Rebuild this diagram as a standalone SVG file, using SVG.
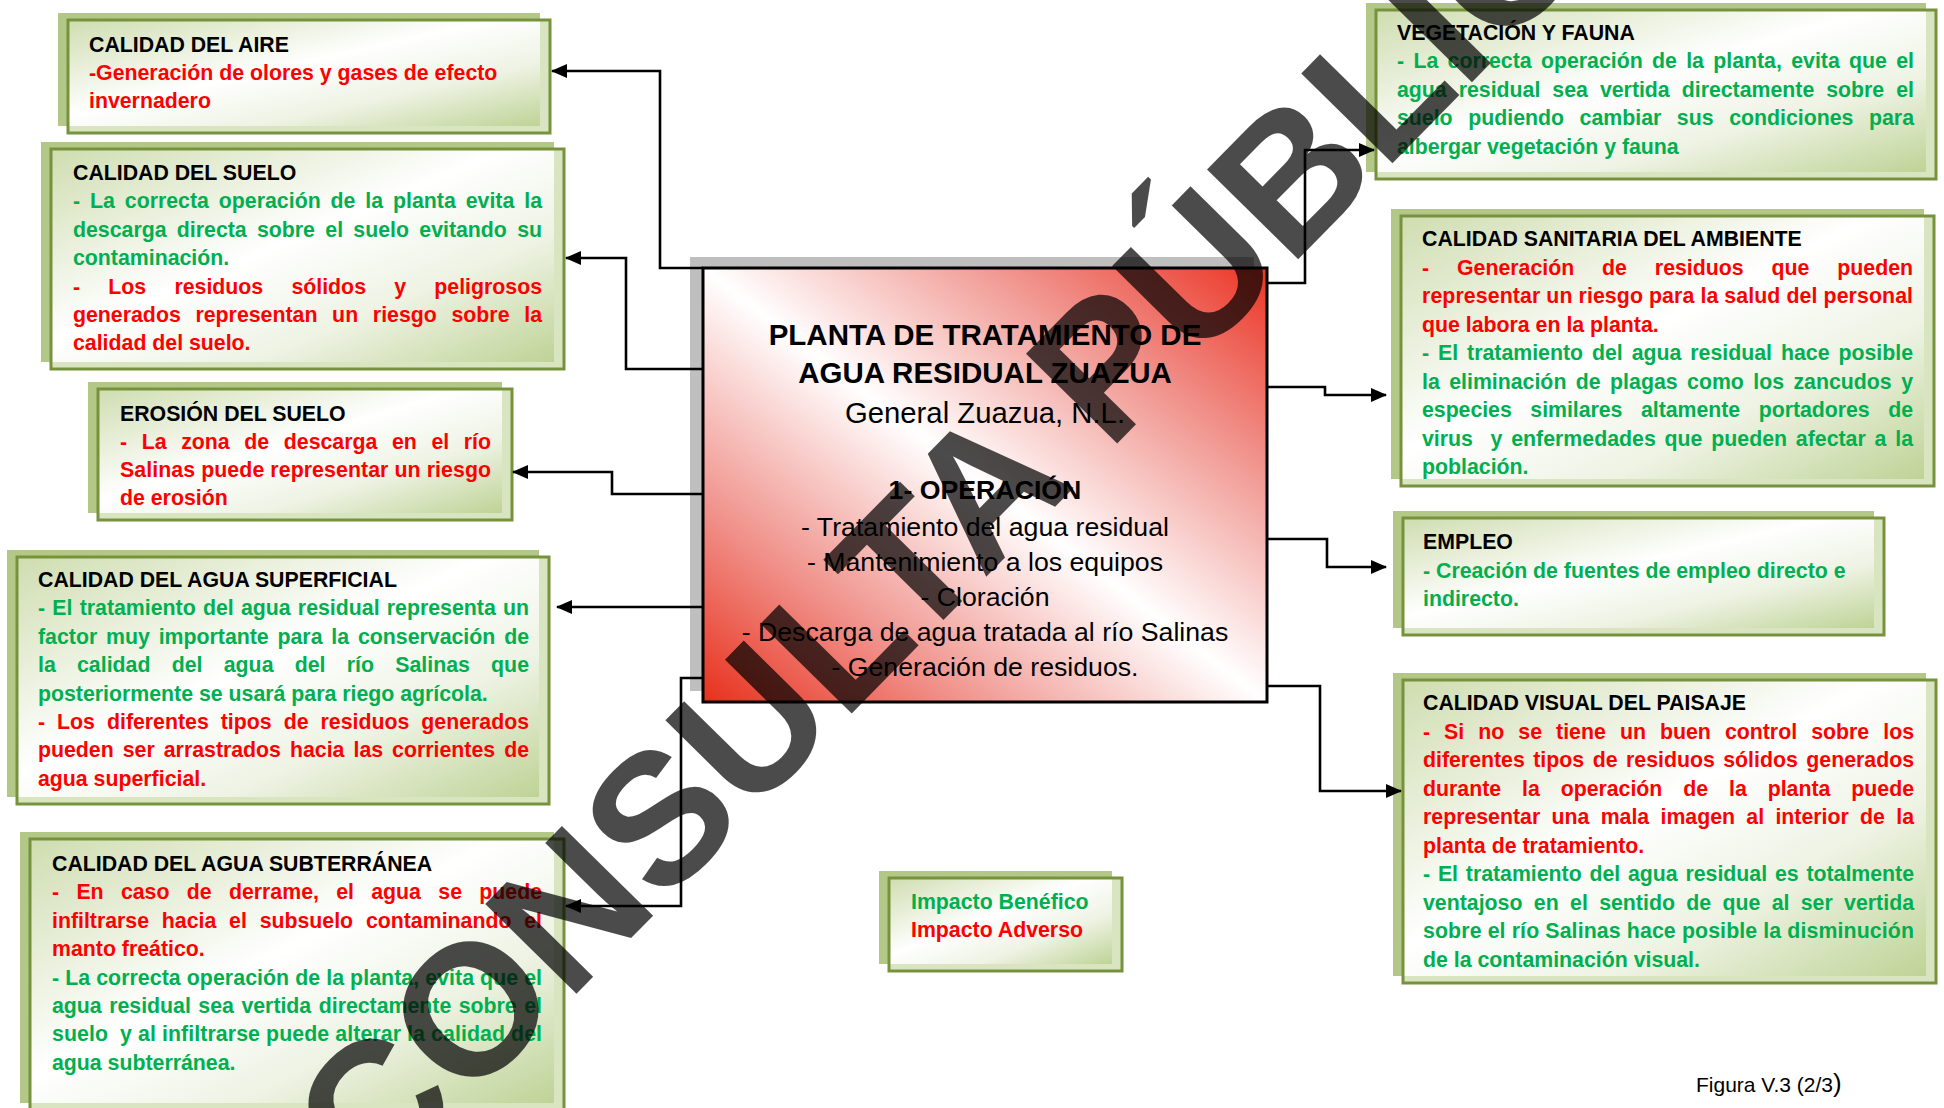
<svg xmlns="http://www.w3.org/2000/svg" width="1944" height="1108" viewBox="0 0 1944 1108">
<defs>
<linearGradient id="gg" x1="0" y1="0" x2="1" y2="1">
<stop offset="0" stop-color="#cfddb0"/>
<stop offset="0.45" stop-color="#ffffff"/>
<stop offset="0.7" stop-color="#eef3e4"/>
<stop offset="1" stop-color="#bfd396"/>
</linearGradient>
<linearGradient id="rg" x1="0" y1="1" x2="1" y2="0">
<stop offset="0" stop-color="#e8301c"/>
<stop offset="0.22" stop-color="#f08f88"/>
<stop offset="0.5" stop-color="#ffffff"/>
<stop offset="0.78" stop-color="#f08f88"/>
<stop offset="1" stop-color="#ec3424"/>
</linearGradient>
<marker id="ah" markerWidth="16" markerHeight="14" refX="15" refY="7" orient="auto" markerUnits="userSpaceOnUse">
<path d="M0,0 L16,7 L0,14 z" fill="#000"/>
</marker>
<style>
.t{font-family:"Liberation Sans",Arial,sans-serif;font-weight:bold;font-size:21.3px}
.k{fill:#000}.r{fill:#ff0000}.g{fill:#00b050}
.sh{fill:#b3c886}.st{fill:#d9e5c1}.in{fill:url(#gg)}
.fr{fill:none;stroke:#76923c;stroke-width:3}
.cn{fill:none;stroke:#000;stroke-width:2.6;marker-end:url(#ah)}
.c{font-family:"Liberation Sans",Arial,sans-serif;text-anchor:middle;fill:#000}
.wm{font-family:"Liberation Sans",Arial,sans-serif;font-weight:bold;font-size:186px;fill:#000;opacity:0.7;text-anchor:middle}
</style>
</defs>
<rect width="1944" height="1108" fill="#fff"/>

<g id="aire">
<rect class="sh" x="58" y="13" width="482" height="113"/>
<rect class="st" x="68" y="20" width="482" height="113"/>
<rect class="in" x="68" y="20" width="472" height="106"/>
<rect class="fr" x="68" y="20" width="482" height="113"/>
<text class="t k" x="89" y="52">CALIDAD DEL AIRE</text>
<text class="t r" x="89" y="80">-Generación de olores y gases de efecto</text>
<text class="t r" x="89" y="108">invernadero</text>
</g>

<g id="suelo">
<rect class="sh" x="41" y="142" width="513" height="220"/>
<rect class="st" x="51" y="149" width="513" height="220"/>
<rect class="in" x="51" y="149" width="503" height="213"/>
<rect class="fr" x="51" y="149" width="513" height="220"/>
<text class="t k" x="73" y="180">CALIDAD DEL SUELO</text>
<text class="t g" x="73" y="208.4" textLength="469" lengthAdjust="spacing" word-spacing="4">- La correcta operación de la planta evita la</text>
<text class="t g" x="73" y="236.8" textLength="469" lengthAdjust="spacing" word-spacing="4.4">descarga directa sobre el suelo evitando su</text>
<text class="t g" x="73" y="265.2">contaminación.</text>
<text class="t r" x="73" y="293.6" textLength="469" lengthAdjust="spacing" word-spacing="22.3">- Los residuos sólidos y peligrosos</text>
<text class="t r" x="73" y="322" textLength="469" lengthAdjust="spacing" word-spacing="8.8">generados representan un riesgo sobre la</text>
<text class="t r" x="73" y="350.4">calidad del suelo.</text>
</g>

<g id="erosion">
<rect class="sh" x="88" y="382" width="414" height="131"/>
<rect class="st" x="98" y="389" width="414" height="131"/>
<rect class="in" x="98" y="389" width="404" height="124"/>
<rect class="fr" x="98" y="389" width="414" height="131"/>
<text class="t k" x="120" y="421">EROSIÓN DEL SUELO</text>
<text class="t r" x="120" y="449" textLength="371" lengthAdjust="spacing" word-spacing="8.7">- La zona de descarga en el río</text>
<text class="t r" x="120" y="477" textLength="371" lengthAdjust="spacing">Salinas puede representar un riesgo</text>
<text class="t r" x="120" y="505">de erosión</text>
</g>

<g id="superficial">
<rect class="sh" x="7" y="550" width="532" height="247"/>
<rect class="st" x="17" y="557" width="532" height="247"/>
<rect class="in" x="17" y="557" width="522" height="240"/>
<rect class="fr" x="17" y="557" width="532" height="247"/>
<text class="t k" x="38" y="587">CALIDAD DEL AGUA SUPERFICIAL</text>
<text class="t g" x="38" y="615.4" textLength="491" lengthAdjust="spacing" word-spacing="1.3">- El tratamiento del agua residual representa un</text>
<text class="t g" x="38" y="643.8" textLength="491" lengthAdjust="spacing" word-spacing="2.9">factor muy importante para la conservación de</text>
<text class="t g" x="38" y="672.2" textLength="491" lengthAdjust="spacing" word-spacing="15.3">la calidad del agua del río Salinas que</text>
<text class="t g" x="38" y="700.6">posteriormente se usará para riego agrícola.</text>
<text class="t r" x="38" y="729" textLength="491" lengthAdjust="spacing" word-spacing="6.1">- Los diferentes tipos de residuos generados</text>
<text class="t r" x="38" y="757.4" textLength="491" lengthAdjust="spacing" word-spacing="3.1">pueden ser arrastrados hacia las corrientes de</text>
<text class="t r" x="38" y="785.8">agua superficial.</text>
</g>

<g id="subterranea">
<rect class="sh" x="20" y="832" width="534" height="271"/>
<rect class="st" x="30" y="839" width="534" height="290"/>
<rect class="in" x="30" y="839" width="524" height="264"/>
<rect class="fr" x="30" y="839" width="534" height="290"/>
<text class="t k" x="52" y="871">CALIDAD DEL AGUA SUBTERRÁNEA</text>
<text class="t r" x="52" y="899.4" textLength="490" lengthAdjust="spacing" word-spacing="11.4">- En caso de derrame, el agua se puede</text>
<text class="t r" x="52" y="927.8" textLength="490" lengthAdjust="spacing" word-spacing="6.9">infiltrarse hacia el subsuelo contaminando el</text>
<text class="t r" x="52" y="956.2">manto freático.</text>
<text class="t g" x="52" y="984.6" textLength="490" lengthAdjust="spacing">- La correcta operación de la planta, evita que el</text>
<text class="t g" x="52" y="1013" textLength="490" lengthAdjust="spacing" word-spacing="1.6">agua residual sea vertida directamente sobre el</text>
<text class="t g" x="52" y="1041.4" textLength="490" lengthAdjust="spacing" xml:space="preserve">suelo  y al infiltrarse puede alterar la calidad del</text>
<text class="t g" x="52" y="1069.8">agua subterránea.</text>
</g>

<g id="vegetacion">
<rect class="sh" x="1366" y="3" width="560" height="169"/>
<rect class="st" x="1376" y="10" width="560" height="169"/>
<rect class="in" x="1376" y="10" width="550" height="162"/>
<rect class="fr" x="1376" y="10" width="560" height="169"/>
<text class="t k" x="1397" y="40">VEGETACIÓN Y FAUNA</text>
<text class="t g" x="1397" y="68.4" textLength="517" lengthAdjust="spacing" word-spacing="3.4">- La correcta operación de la planta, evita que el</text>
<text class="t g" x="1397" y="96.8" textLength="517" lengthAdjust="spacing" word-spacing="6.1">agua residual sea vertida directamente sobre el</text>
<text class="t g" x="1397" y="125.2" textLength="517" lengthAdjust="spacing" word-spacing="9.7">suelo pudiendo cambiar sus condiciones para</text>
<text class="t g" x="1397" y="153.6">albergar vegetación y fauna</text>
</g>

<g id="sanitaria">
<rect class="sh" x="1391" y="209" width="533" height="270"/>
<rect class="st" x="1401" y="216" width="533" height="270"/>
<rect class="in" x="1401" y="216" width="523" height="263"/>
<rect class="fr" x="1401" y="216" width="533" height="270"/>
<text class="t k" x="1422" y="246">CALIDAD SANITARIA DEL AMBIENTE</text>
<text class="t r" x="1422" y="274.5" textLength="491" lengthAdjust="spacing" word-spacing="22">- Generación de residuos que pueden</text>
<text class="t r" x="1422" y="303" textLength="491" lengthAdjust="spacing">representar un riesgo para la salud del personal</text>
<text class="t r" x="1422" y="331.5">que labora en la planta.</text>
<text class="t g" x="1422" y="360" textLength="491" lengthAdjust="spacing" word-spacing="3">- El tratamiento del agua residual hace posible</text>
<text class="t g" x="1422" y="388.5" textLength="491" lengthAdjust="spacing" word-spacing="3.5">la eliminación de plagas como los zancudos y</text>
<text class="t g" x="1422" y="417" textLength="491" lengthAdjust="spacing" word-spacing="12.7">especies similares altamente portadores de</text>
<text class="t g" x="1422" y="445.5" textLength="491" lengthAdjust="spacing" word-spacing="2.9" xml:space="preserve">virus  y enfermedades que pueden afectar a la</text>
<text class="t g" x="1422" y="474">población.</text>
</g>

<g id="empleo">
<rect class="sh" x="1393" y="511" width="481" height="117"/>
<rect class="st" x="1403" y="518" width="481" height="117"/>
<rect class="in" x="1403" y="518" width="471" height="110"/>
<rect class="fr" x="1403" y="518" width="481" height="117"/>
<text class="t k" x="1423" y="549">EMPLEO</text>
<text class="t g" x="1423" y="578">- Creación de fuentes de empleo directo e</text>
<text class="t g" x="1423" y="606">indirecto.</text>
</g>

<g id="visual">
<rect class="sh" x="1393" y="673" width="533" height="303"/>
<rect class="st" x="1403" y="680" width="533" height="303"/>
<rect class="in" x="1403" y="680" width="523" height="296"/>
<rect class="fr" x="1403" y="680" width="533" height="303"/>
<text class="t k" x="1423" y="710">CALIDAD VISUAL DEL PAISAJE</text>
<text class="t r" x="1423" y="738.5" textLength="491" lengthAdjust="spacing" word-spacing="8.1">- Si no se tiene un buen control sobre los</text>
<text class="t r" x="1423" y="767" textLength="491" lengthAdjust="spacing" word-spacing="2.6">diferentes tipos de residuos sólidos generados</text>
<text class="t r" x="1423" y="795.5" textLength="491" lengthAdjust="spacing" word-spacing="15">durante la operación de la planta puede</text>
<text class="t r" x="1423" y="824" textLength="491" lengthAdjust="spacing" word-spacing="5.4">representar una mala imagen al interior de la</text>
<text class="t r" x="1423" y="852.5">planta de tratamiento.</text>
<text class="t g" x="1423" y="881" textLength="491" lengthAdjust="spacing" word-spacing="1.9">- El tratamiento del agua residual es totalmente</text>
<text class="t g" x="1423" y="909.5" textLength="491" lengthAdjust="spacing" word-spacing="5.4">ventajoso en el sentido de que al ser vertida</text>
<text class="t g" x="1423" y="938" textLength="491" lengthAdjust="spacing">sobre el río Salinas hace posible la disminución</text>
<text class="t g" x="1423" y="966.5">de la contaminación visual.</text>
</g>

<g id="leyenda">
<rect class="sh" x="879" y="871" width="233" height="93"/>
<rect class="st" x="889" y="878" width="233" height="93"/>
<rect class="in" x="889" y="878" width="223" height="86"/>
<rect class="fr" x="889" y="878" width="233" height="93"/>
<text class="t g" x="911" y="909">Impacto Benéfico</text>
<text class="t r" x="911" y="937">Impacto Adverso</text>
</g>

<g id="planta">
<rect x="690" y="257" width="564" height="434" fill="#bfbfbf"/>
<rect x="703" y="268" width="564" height="434" fill="url(#rg)" stroke="#000" stroke-width="3"/>
<text class="c" x="985" y="345" font-size="29.5" font-weight="bold">PLANTA DE TRATAMIENTO DE</text>
<text class="c" x="985" y="383" font-size="29.5" font-weight="bold">AGUA RESIDUAL ZUAZUA</text>
<text class="c" x="985" y="423" font-size="29.3">General Zuazua, N.L.</text>
<text class="c" x="985" y="499" font-size="26.7" font-weight="bold">1- OPERACIÓN</text>
<text class="c" x="985" y="536" font-size="26.7">- Tratamiento del agua residual</text>
<text class="c" x="985" y="571" font-size="26.7">- Mantenimiento a los equipos</text>
<text class="c" x="985" y="606" font-size="26.7">- Cloración</text>
<text class="c" x="985" y="641" font-size="26.7">- Descarga de agua tratada al río Salinas</text>
<text class="c" x="985" y="676" font-size="26.7">- Generación de residuos.</text>
</g>

<g id="conectores">
<path class="cn" d="M703,268 H660 V71 H552"/>
<path class="cn" d="M703,369 H626 V258 H566"/>
<path class="cn" d="M703,494 H612 V472 H513"/>
<path class="cn" d="M703,607 H557"/>
<path class="cn" d="M703,678 H681 V906 H566"/>
<path class="cn" d="M1267,283 H1305 V150 H1374"/>
<path class="cn" d="M1267,387 H1325 V395 H1386"/>
<path class="cn" d="M1267,539 H1327 V567 H1386"/>
<path class="cn" d="M1267,686 H1320 V791 H1401"/>
</g>

<text x="1696" y="1092" font-family="Liberation Sans, Arial, sans-serif" font-size="21" fill="#000">Figura V.3 (2/3<tspan font-size="26">)</tspan></text>

<text class="wm" transform="translate(1030,532) rotate(-45.5)">CONSULTA PÚBLICA</text>
</svg>
